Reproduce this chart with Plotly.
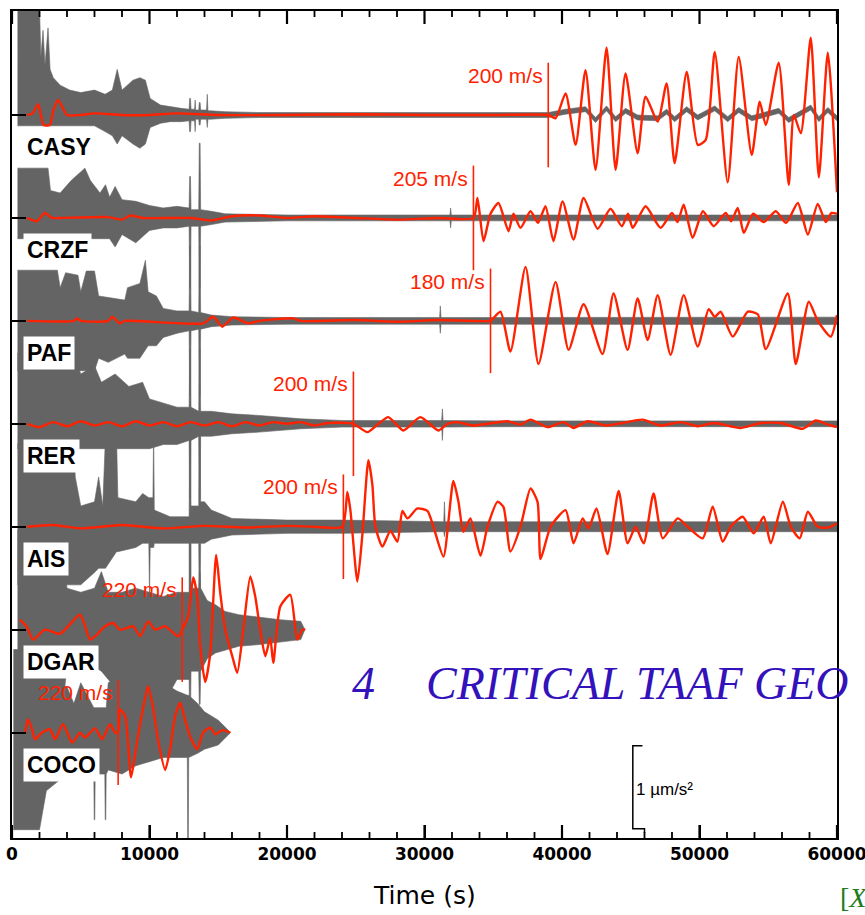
import plotly.graph_objects as go

# ---------------- data ----------------
STATIONS = ["CASY", "CRZF", "PAF", "RER", "AIS", "DGAR", "COCO"]
ARRIVAL_TIME = [39000, 33560, 34800, 24830, 24100, 12380, 7720]          # s
ARRIVAL_LABEL = ["200 m/s", "205 m/s", "180 m/s", "200 m/s", "200 m/s", "220 m/s", "220 m/s"]
X_TICKS = [0, 10000, 20000, 30000, 40000, 50000, 60000]
X_TICK_LABELS = ["0", "10000", "20000", "30000", "40000", "50000", "60000"]
X_MINOR_TICKS = [2000, 4000, 6000, 8000, 12000, 14000, 16000, 18000, 22000, 24000, 26000, 28000,
                 32000, 34000, 36000, 38000, 42000, 44000, 46000, 48000, 52000, 54000, 56000, 58000]
SCALE_BAR_VALUE = 1.0   # µm/s²

# gray (broad-band) traces: envelope, µm/s²
casy_gray_t = [400, 2000, 2100, 2257, 2400, 2621, 2770, 3000, 3500, 4200, 5000, 6000,
               6770, 7300, 7650, 8000, 8800, 9300, 9700, 10050, 10800, 11500, 12300,
               12880, 12920, 12980, 13020, 13280, 13320, 13360, 13580, 13620, 13680, 13720, 14150, 14200, 14250,
               14500, 15500, 18000, 22000, 26000, 30000, 34000, 38000,
               39000, 40260, 41710, 42440, 43240, 43900, 44620, 45500, 46960, 47610, 48190, 49070, 49870,
               51110, 52050, 52850, 53800, 55760, 56490, 58090, 58680, 59330, 60000]
casy_gray_hi = [1.3, 1.3, 0.7, 1.02, 0.6, 1.05, 0.55, 0.45, 0.36, 0.3, 0.27, 0.3,
                0.25, 0.3, 0.55, 0.3, 0.42, 0.45, 0.42, 0.2, 0.12, 0.1, 0.08,
                0.07, 0.2, 0.2, 0.07, 0.07, 0.18, 0.06, 0.06, 0.15, 0.15, 0.06, 0.06, 0.25, 0.05,
                0.05, 0.04, 0.03, 0.03, 0.03, 0.03, 0.03, 0.03,
                0.03, 0.07, 0.1, -0.03, 0.11, -0.02, 0.08, 0.0, -0.01, 0.07, -0.02, 0.1, 0.0,
                0.11, -0.02, 0.09, -0.01, 0.08, -0.03, 0.12, -0.02, 0.09, -0.01]
casy_gray_lo = [-0.13, -0.13, -0.13, -0.13, -0.13, -0.13, -0.13, -0.13, -0.13, -0.13, -0.13, -0.13,
                -0.2, -0.25, -0.35, -0.25, -0.35, -0.4, -0.35, -0.15, -0.1, -0.08, -0.08,
                -0.07, -0.2, -0.2, -0.07, -0.07, -0.2, -0.05, -0.05, -0.12, -0.12, -0.05, -0.05, -0.15, -0.05,
                -0.05, -0.04, -0.03, -0.03, -0.03, -0.03, -0.03, -0.03,
                -0.03, 0.01, 0.04, -0.09, 0.05, -0.08, 0.02, -0.06, -0.07, 0.01, -0.08, 0.04, -0.06,
                0.05, -0.08, 0.03, -0.07, 0.02, -0.09, 0.06, -0.08, 0.03, -0.07]

crzf_gray_t = [400, 2621, 2800, 3500, 4300, 5000, 5300, 5700, 6400, 6800,
               7100, 7500, 8000, 9000, 10000, 11000, 12000, 12880, 12920, 12980,
               13020, 13580, 13620, 13680, 13720, 14500, 15500, 20000, 31850, 31900,
               31950, 36000, 45000, 60000]
crzf_gray_hi = [0.6, 0.6, 0.33, 0.3, 0.45, 0.55, 0.6, 0.45, 0.3, 0.4,
                0.25, 0.38, 0.22, 0.2, 0.15, 0.12, 0.14, 0.12, 0.5, 0.5,
                0.1, 0.1, 0.9, 0.9, 0.1, 0.08, 0.05, 0.035, 0.035, 0.12,
                0.035, 0.035, 0.035, 0.035]
crzf_gray_lo = [-0.25, -0.25, -0.25, -0.25, -0.25, -0.25, -0.25, -0.25, -0.25, -0.25,
                -0.25, -0.35, -0.2, -0.3, -0.15, -0.12, -0.12, -0.1, -0.85, -0.85,
                -0.1, -0.1, -0.85, -0.85, -0.1, -0.08, -0.05, -0.035, -0.035, -0.12,
                -0.035, -0.035, -0.035, -0.035]

paf_gray_t = [400, 3300, 3500, 3900, 4800, 5000, 5400, 6000, 6300, 7000,
              8200, 8400, 9300, 9700, 9900, 10500, 11000, 12000, 12880, 12920,
              12980, 13020, 13580, 13620, 13680, 13720, 14500, 16000, 20000, 31100,
              31150, 31200, 34000, 36000, 45000, 60000]
paf_gray_hi = [0.61, 0.61, 0.4, 0.58, 0.55, 0.35, 0.6, 0.6, 0.3, 0.28,
               0.25, 0.4, 0.45, 0.73, 0.35, 0.3, 0.15, 0.12, 0.12, 0.9,
               0.9, 0.12, 0.1, 0.9, 0.9, 0.1, 0.07, 0.05, 0.04, 0.04,
               0.18, 0.04, 0.04, 0.045, 0.045, 0.045]
paf_gray_lo = [-0.6, -0.6, -0.6, -0.6, -0.6, -0.6, -0.6, -0.6, -0.45, -0.5,
               -0.4, -0.45, -0.45, -0.35, -0.3, -0.3, -0.2, -0.15, -0.12, -0.9,
               -0.9, -0.12, -0.1, -0.9, -0.9, -0.1, -0.07, -0.05, -0.04, -0.04,
               -0.15, -0.04, -0.04, -0.045, -0.045, -0.045]

rer_gray_t = [400, 4500, 5000, 6000, 6500, 7500, 8500, 9500, 10000, 11000,
              12000, 12880, 12920, 12980, 13020, 13580, 13620, 13680, 13720, 14500,
              16000, 18000, 21000, 24000, 31250, 31300, 31350, 36000, 60000]
rer_gray_hi = [0.85, 0.85, 0.6, 0.7, 0.5, 0.6, 0.45, 0.5, 0.3, 0.25,
               0.2, 0.2, 0.9, 0.9, 0.2, 0.15, 0.9, 0.9, 0.15, 0.15,
               0.12, 0.1, 0.06, 0.04, 0.04, 0.18, 0.04, 0.035, 0.035]
rer_gray_lo = [-0.3, -0.3, -0.3, -0.3, -0.3, -0.3, -0.3, -0.3, -0.3, -0.25,
               -0.25, -0.2, -0.9, -0.9, -0.2, -0.15, -0.9, -0.9, -0.15, -0.15,
               -0.12, -0.1, -0.06, -0.04, -0.04, -0.2, -0.04, -0.035, -0.035]

ais_gray_t = [400, 4500, 4600, 5000, 6000, 6300, 6600, 6800, 7600, 7700,
              9000, 9500, 9950, 10000, 10050, 10250, 10300, 10350, 11500, 12500,
              12880, 12920, 12980, 13020, 13580, 13620, 13680, 13720, 14000, 14500,
              16000, 20000, 24000, 31400, 31450, 31500, 40000, 50000, 60000]
ais_gray_hi = [1.0, 1.0, 0.6, 0.25, 0.3, 0.6, 0.25, 1.1, 1.1, 0.35,
               0.3, 0.4, 0.35, 0.35, 0.35, 0.35, 1.15, 0.2, 0.12, 0.12,
               0.12, 1.1, 1.1, 0.25, 0.25, 1.1, 1.1, 0.3, 0.3, 0.2,
               0.1, 0.08, 0.08, 0.06, 0.3, 0.06, 0.06, 0.06, 0.06]
ais_gray_lo = [-0.7, -0.7, -0.7, -0.7, -0.55, -0.5, -0.5, -0.5, -0.3, -0.3,
               -0.25, -0.2, -0.2, -0.85, -0.25, -0.25, -0.25, -0.2, -0.2, -0.2,
               -0.2, -1.0, -1.0, -0.2, -0.2, -1.0, -1.0, -0.2, -0.2, -0.15,
               -0.1, -0.08, -0.08, -0.06, -0.12, -0.06, -0.06, -0.06, -0.06]

dgar_gray_t = [400, 3500, 4000, 5000, 6000, 6500, 7000, 8000, 9000, 10000,
               11000, 12000, 12880, 12920, 12980, 13020, 13300, 13580, 13620, 13680,
               13720, 14200, 14800, 15500, 16500, 18000, 19500, 21000, 21300]
dgar_gray_hi = [1.2, 1.2, 0.5, 0.45, 0.5, 0.7, 0.45, 0.45, 0.5, 0.45,
                0.4, 0.45, 0.45, 1.15, 1.15, 0.5, 0.5, 0.5, 0.7, 0.7,
                0.5, 0.35, 0.3, 0.22, 0.18, 0.15, 0.12, 0.1, 0.0]
dgar_gray_lo = [-1.2, -1.2, -0.45, -0.45, -0.45, -0.5, -0.6, -0.8, -0.9, -0.7,
                -0.9, -0.6, -0.6, -1.1, -1.1, -0.5, -0.5, -0.5, -0.9, -0.9,
                -0.5, -0.35, -0.28, -0.25, -0.2, -0.18, -0.15, -0.12, 0.0]

coco_gray_t = [100, 2000, 2500, 4000, 4500, 5000, 5950, 5980, 6020, 6050,
               6750, 6780, 6820, 6850, 7000, 8000, 9000, 10000, 11000, 12000,
               12750, 12780, 12820, 12850, 13500, 14000, 15000, 15900]
coco_gray_hi = [1.0, 1.0, 0.55, 0.55, 0.35, 0.6, 0.3, 0.3, 0.3, 0.3,
                0.3, 0.3, 0.3, 0.3, 0.6, 0.7, 0.75, 0.7, 0.6, 0.5,
                0.45, 0.45, 0.45, 0.45, 0.35, 0.25, 0.15, 0.0]
coco_gray_lo = [-1.17, -1.17, -0.7, -0.5, -0.5, -0.5, -0.5, -1.05, -1.05, -0.5,
                -0.5, -1.05, -1.05, -0.5, -0.45, -0.5, -0.4, -0.35, -0.3, -0.3,
                -0.3, -1.35, -1.35, -0.3, -0.25, -0.2, -0.15, 0.0]

# red (long-period) traces, µm/s²
casy_red_t = [1100, 1500, 1900, 2100, 2300, 2750, 3000, 3350, 3650, 4000, 5000, 6000, 8000, 10000, 12000, 15000,
              20000, 25000, 30000, 35000, 39000, 39530, 40260, 40990, 41710, 42440, 43240, 43900, 44620, 45500,
              46080, 46960, 47610, 48190, 49070, 49870, 50450, 51110, 52050, 52850, 53800, 54380, 54820, 55760,
              56490, 56860, 57370, 58090, 58680, 59330, 60000]
casy_red_v = [0, 0.02, 0.13, 0.0, -0.12, -0.12, 0.05, 0.18, 0.1, 0, 0, 0.02, 0, 0, 0.02, 0,
              0, 0.01, 0, 0, 0, -0.04, 0.26, -0.36, 0.54, -0.66, 0.81, -0.66, 0.5, -0.46,
              0.22, -0.08, 0.38, -0.58, 0.52, -0.36, -0.30, 0.76, -0.81, 0.70, -0.48, 0.16, -0.12, 0.63,
              -0.84, 0, -0.22, 0.93, -0.75, 0.75, -0.93]

crzf_red_t = [1100, 1800, 2400, 2900, 3500, 7000, 8000, 8600, 9500, 13000, 14500, 16000, 18000, 20000, 22000,
              25000, 28000, 31000, 33560, 33850, 34290, 34800, 35380, 36110, 36470, 36980, 37710, 38250, 38800,
              39380, 40040, 40840, 41570, 42590, 43530, 44350, 44800, 45140, 46080, 47170, 48000, 48400, 48850,
              49500, 50250, 51030, 51900, 52300, 52780, 53220, 53900, 54670, 55550, 56300, 57150, 57880, 58600,
              59190, 59600, 60000]
crzf_red_v = [0, -0.04, 0.06, 0, 0, 0.01, -0.02, 0.03, 0, 0, -0.03, 0.02, 0.03, 0, 0.02,
              0, -0.02, 0, 0, 0.24, -0.28, 0.05, 0.18, -0.16, 0.05, -0.12, 0.08, -0.06, 0.14,
              -0.28, 0.2, -0.26, 0.24, -0.13, 0.11, -0.1, 0.05, -0.12, 0.14, -0.12, 0.06, -0.05, 0.16,
              -0.24, 0.08, -0.1, 0.06, -0.04, 0.12, -0.18, 0.05, -0.05, 0.08, -0.06, 0.18, -0.2, 0.17,
              -0.05, 0.06, 0.05]

paf_red_t = [1100, 4500, 4730, 5000, 7000, 7280, 7860, 8200, 13900, 14630, 15290, 16090, 17180, 18000, 20460,
             21000, 25000, 28000, 31000, 34800, 34940, 35530, 36250, 37350, 38290, 39530, 40480, 41570, 42950,
             43750, 44770, 45500, 46230, 46960, 47900, 48850, 49870, 50670, 51110, 51540, 52420, 53510, 54240,
             54820, 56420, 57000, 57950, 58600, 59550, 60000]
paf_red_v = [0, 0, 0.03, 0, 0, 0.05, -0.03, 0, -0.03, 0.05, -0.07, 0.04, -0.03, 0, 0.03,
             0, 0.01, -0.01, 0.01, 0, 0.02, 0.11, -0.37, 0.65, -0.52, 0.47, -0.35, 0.2, -0.4,
             0.33, -0.35, 0.27, -0.23, 0.31, -0.41, 0.31, -0.31, 0.14, 0.05, 0.11, -0.19, 0.11, 0.08,
             -0.34, 0.33, -0.52, 0.23, 0.0, -0.19, 0.07]

rer_red_t = [1100, 2000, 3000, 4000, 5000, 6000, 7000, 8000, 9000, 10000, 11000, 12000, 13000, 14000, 15000,
             16000, 17000, 18000, 19000, 20000, 21000, 22000, 23000, 24830, 25840, 26650, 27370, 28460, 29700,
             31010, 31670, 32400, 33490, 34580, 36040, 36980, 37710, 38950, 40110, 40840, 41860, 43170, 44410,
             45860, 47170, 48630, 49870, 51030, 53000, 54450, 55910, 57510, 58460, 59190, 60000]
rer_red_v = [0, -0.04, 0.02, -0.03, 0.03, -0.02, 0.02, -0.03, 0.03, -0.02, 0.02, -0.03, 0.02, -0.02, 0.02,
             -0.03, 0.02, -0.02, 0.02, 0, 0.02, -0.02, 0.01, 0, -0.1, 0, 0.08, -0.08, 0.08,
             -0.08, 0, 0.02, -0.02, 0.0, 0.03, -0.01, 0.05, -0.04, 0.02, -0.05, 0.03, -0.02, 0.01,
             0.05, -0.02, 0.02, -0.03, 0.01, -0.05, 0.01, 0.01, -0.06, 0.04, 0.0, -0.04]

ais_red_t = [1100, 3000, 5000, 8000, 11000, 14000, 17000, 20000, 22000, 24020, 24390, 24610, 25120, 25480, 25920,
             26210, 26430, 26940, 27520, 28030, 28390, 28760, 29480, 30210, 30650, 31380, 32100, 32470, 32830,
             33340, 34070, 34580, 35310, 35740, 36250, 36980, 37710, 38220, 38440, 39170, 40260, 40840, 41500,
             41930, 42510, 43310, 44120, 44770, 45350, 45940, 46660, 47320, 48410, 49140, 50230, 50960, 51690,
             52270, 53140, 53940, 54670, 55180, 56060, 56640, 57290, 57880, 58600, 59400, 60000]
ais_red_v = [0, 0.02, -0.02, 0.02, -0.02, 0.01, -0.01, 0.01, 0, 0, 0.42, 0.2, -0.66, -0.1, 0.8,
             0.5, 0, -0.24, -0.05, -0.18, 0.19, 0.1, 0.22, 0.19, 0, -0.36, 0.55, 0.3, -0.06,
             0.1, -0.35, 0, 0.3, 0.24, -0.3, 0, 0.46, 0.3, -0.39, 0, 0.2, -0.2, 0.1,
             -0.02, 0.22, -0.33, 0.43, -0.2, 0, -0.2, 0.4, -0.14, 0.1, 0, -0.14, 0.24, -0.18,
             0, 0.12, -0.08, 0.12, -0.2, 0.3, 0, -0.14, 0.18, 0, -0.01, 0.04]

dgar_red_t = [580, 1090, 1530, 2400, 3490, 4950, 5680, 6040, 6770, 7350, 7860, 8810, 9320, 9900, 10410,
              11140, 12080, 12380, 12810, 13180, 13470, 13690, 14050, 14410, 14850, 15140, 15510, 16020, 16380,
              16820, 17330, 17690, 18050, 18420, 18780, 19000, 19510, 20240, 20750, 21110, 21330]
dgar_red_v = [0.12, 0.03, -0.12, 0, -0.05, 0.18, -0.12, -0.08, 0.04, 0.08, 0, 0.04, -0.08, 0.1, 0,
              0.04, -0.08, 0, 0.16, 0.63, 0.4, -0.2, -0.63, -0.3, 0.9, 0.45, 0, -0.32, -0.52,
              0, 0.64, 0.4, 0, -0.32, -0.1, -0.4, 0.28, 0.42, -0.12, 0, 0]

coco_red_t = [950, 1160, 1460, 1670, 2180, 2770, 3130, 3710, 4370, 4950, 5310, 6040, 6550, 7130, 7500,
              7720, 7860, 8230, 8660, 9100, 9540, 9900, 10260, 10630, 11140, 11500, 11870, 12230, 12590,
              12960, 13470, 13900, 14410, 14780, 15290, 15870]
coco_red_v = [0, 0.16, 0.04, -0.08, 0, 0.04, -0.08, 0.1, -0.12, 0, -0.06, 0.05, -0.08, 0.1, 0,
              0, 0.28, 0.2, -0.54, -0.1, 0.3, 0.56, 0.3, -0.1, -0.45, -0.2, 0.2, 0.36, 0.15,
              -0.05, -0.2, 0.0, 0.06, -0.02, 0.03, 0]

GRAY = [(casy_gray_t, casy_gray_hi, casy_gray_lo), (crzf_gray_t, crzf_gray_hi, crzf_gray_lo),
        (paf_gray_t, paf_gray_hi, paf_gray_lo), (rer_gray_t, rer_gray_hi, rer_gray_lo),
        (ais_gray_t, ais_gray_hi, ais_gray_lo), (dgar_gray_t, dgar_gray_hi, dgar_gray_lo),
        (coco_gray_t, coco_gray_hi, coco_gray_lo)]
RED = [(casy_red_t, casy_red_v), (crzf_red_t, crzf_red_v), (paf_red_t, paf_red_v), (rer_red_t, rer_red_v),
       (ais_red_t, ais_red_v), (dgar_red_t, dgar_red_v), (coco_red_t, coco_red_v)]

for g in GRAY:
    assert len(g[0]) == len(g[1]) == len(g[2]), (len(g[0]), len(g[1]), len(g[2]))
for r in RED:
    assert len(r[0]) == len(r[1]), (len(r[0]), len(r[1]))

# ---------------- layout constants ----------------
TRACE_STEP = 1.24          # vertical spacing between stations (µm/s²)
X_RANGE = [0, 60000]
Y_RANGE = [-8.71, 1.253]
PLOT_H_PX = 827
MAJOR_LEN_PX, MINOR_LEN_PX = 13, 6
GRAY_C = "#646464"
RED_C = "#ff2200"
SANS = "Liberation Sans, Arial, sans-serif"

offsets = [-i * TRACE_STEP for i in range(len(STATIONS))]

fig = go.Figure()

# gray traces (filled envelope)
for (t, hi, lo), off in zip(GRAY, offsets):
    fig.add_trace(go.Scatter(x=t, y=[v + off for v in lo], mode="lines",
                             line=dict(color=GRAY_C, width=0.6), hoverinfo="skip", showlegend=False))
    fig.add_trace(go.Scatter(x=t, y=[v + off for v in hi], mode="lines", fill="tonexty",
                             fillcolor=GRAY_C, line=dict(color=GRAY_C, width=0.6),
                             hoverinfo="skip", showlegend=False))

# red traces
for (t, v), off in zip(RED, offsets):
    fig.add_trace(go.Scatter(x=t, y=[a + off for a in v], mode="lines",
                             line=dict(color=RED_C, width=2.4, shape="spline", smoothing=0.6),
                             hoverinfo="skip", showlegend=False))

# arrival markers
for ta, off in zip(ARRIVAL_TIME, offsets):
    fig.add_trace(go.Scatter(x=[ta, ta], y=[off + 0.63, off - 0.63], mode="lines",
                             line=dict(color=RED_C, width=1.6), hoverinfo="skip", showlegend=False))

# inward tick marks on bottom and top frame, one path per set (from the tick value lists)
y_lo, y_hi = Y_RANGE
unit_per_px = (y_hi - y_lo) / PLOT_H_PX
for vals, ln, w in ((X_TICKS, MAJOR_LEN_PX, 2.2), (X_MINOR_TICKS, MINOR_LEN_PX, 1.8)):
    d = ln * unit_per_px
    path = ""
    for xv in vals:
        path += f"M {xv},{y_lo} L {xv},{y_lo + d} M {xv},{y_hi} L {xv},{y_hi - d} "
    fig.add_shape(type="path", xref="x", yref="y", path=path.strip(),
                  line=dict(color="black", width=w), layer="above")

annotations = []
for name, ta, lab, off in zip(STATIONS, ARRIVAL_TIME, ARRIVAL_LABEL, offsets):
    annotations.append(dict(x=800, y=off - 0.39, xref="x", yref="y", text="<b>" + name + "</b>",
                            showarrow=False, xanchor="left", yanchor="middle", bgcolor="white",
                            borderpad=3, font=dict(family=SANS, size=23, color="black")))
    annotations.append(dict(x=ta - 230, y=off + 0.48, xref="x", yref="y", text=lab,
                            showarrow=False, xanchor="right", yanchor="middle",
                            font=dict(family=SANS, size=21, color=RED_C)))

# scale bar
SB_T = 45150
SB_TOP = -7.6
fig.add_shape(type="path", xref="x", yref="y",
              path=f"M {SB_T + 700},{SB_TOP} L {SB_T},{SB_TOP} L {SB_T},{SB_TOP - SCALE_BAR_VALUE} "
                   f"L {SB_T + 850},{SB_TOP - SCALE_BAR_VALUE} L {SB_T + 850},{SB_TOP - SCALE_BAR_VALUE - 0.05}",
              line=dict(color="black", width=1.5))
annotations.append(dict(x=SB_T + 120, y=SB_TOP - SCALE_BAR_VALUE / 2 - 0.02, xref="x", yref="y",
                        text="1 µm/s²", showarrow=False, xanchor="left", yanchor="middle",
                        font=dict(family=SANS, size=17, color="black")))

# axis title
annotations.append(dict(x=30000, y=-0.069, xref="x", yref="paper", text="Time (s)", showarrow=False,
                        xanchor="center", yanchor="middle",
                        font=dict(family="DejaVu Sans", size=25, color="black")))

# overlaid page text
annotations.append(dict(x=0.4097, y=0.1874, xref="paper", yref="paper", text="<i>4</i>", showarrow=False,
                        xanchor="left", yanchor="middle",
                        font=dict(family="Liberation Serif, Times New Roman, serif", size=46, color="#3311bb")))
annotations.append(dict(x=0.4994, y=0.1874, xref="paper", yref="paper", text="<i>CRITICAL TAAF GEO</i>",
                        showarrow=False, xanchor="left", yanchor="middle",
                        font=dict(family="Liberation Serif, Times New Roman, serif", size=46, color="#3311bb")))
annotations.append(dict(x=1.0012, y=-0.0714, xref="paper", yref="paper", text="[<i>X</i>", showarrow=False,
                        xanchor="left", yanchor="middle",
                        font=dict(family="Liberation Serif, Times New Roman, serif", size=28, color="#1c7c1c")))

fig.update_layout(
    width=865, height=915,
    margin=dict(l=12, r=28, t=11, b=77, autoexpand=False),
    paper_bgcolor="white", plot_bgcolor="white",
    showlegend=False,
    annotations=annotations,
    xaxis=dict(range=X_RANGE, showline=True, linecolor="black", linewidth=1.5, mirror=True,
               ticks="inside", ticklen=MAJOR_LEN_PX, tickwidth=2, tickcolor="black", automargin=False,
               tickmode="array", tickvals=X_TICKS, ticktext=X_TICK_LABELS, ticklabeloverflow="allow",
               tickfont=dict(family="DejaVu Sans", size=17, color="black", weight="bold"),
               showgrid=False, zeroline=False),
    yaxis=dict(range=Y_RANGE, showline=True, linecolor="black", linewidth=1.5, mirror=True,
               ticks="inside", ticklen=14, tickwidth=2, tickcolor="black", automargin=False,
               tickmode="array", tickvals=offsets, showticklabels=False, showgrid=False, zeroline=False),
)

fig.write_html("out.html")
